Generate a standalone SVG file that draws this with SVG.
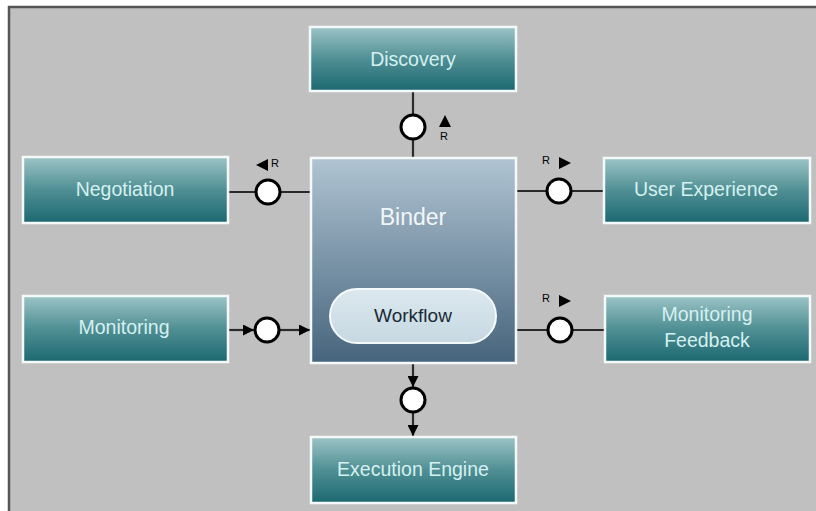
<svg xmlns="http://www.w3.org/2000/svg" width="816" height="511" viewBox="0 0 816 511">
  <defs>
    <linearGradient id="tealGrad" x1="0" y1="0" x2="0" y2="1">
      <stop offset="0" stop-color="#9cc4c6"/>
      <stop offset="0.5" stop-color="#4f8f94"/>
      <stop offset="1" stop-color="#1c6870"/>
    </linearGradient>
    <linearGradient id="binderGrad" x1="0" y1="0" x2="0" y2="1">
      <stop offset="0" stop-color="#b0c4d2"/>
      <stop offset="0.5" stop-color="#7b94a8"/>
      <stop offset="1" stop-color="#46647c"/>
    </linearGradient>
    <linearGradient id="pillGrad" x1="0" y1="0" x2="0" y2="1">
      <stop offset="0" stop-color="#dce8ee"/>
      <stop offset="1" stop-color="#c6d8e2"/>
    </linearGradient>
    <marker id="arrowBig" viewBox="0 0 10 10" refX="10" refY="5" markerWidth="12" markerHeight="11" markerUnits="userSpaceOnUse" orient="auto">
      <path d="M0,0 L10,5 L0,10 z" fill="#000"/>
    </marker>
  </defs>
  <style>
    .box { fill: url(#tealGrad); stroke: #f4fafa; stroke-width: 2.5; }
    .binder { fill: url(#binderGrad); stroke: #f4fafa; stroke-width: 2.5; }
    .label { font-family: "Liberation Sans", Arial, sans-serif; font-size: 19.5px; fill: #d6f0f0; text-anchor: middle; }
    .wire { stroke: #2a2a2a; stroke-width: 2.2; fill: none; }
    .port { fill: #ffffff; stroke: #000; stroke-width: 3; }
    .tri { fill: #000; }
    .r { font-family: "Liberation Sans", Arial, sans-serif; font-size: 11px; fill: #000; }
  </style>

  <!-- canvas -->
  <rect x="0" y="0" width="816" height="511" fill="#ffffff"/>
  <rect x="8" y="6" width="808" height="505" fill="#c0c0c0"/>
  <path d="M9,511 V7 H816" fill="none" stroke="#555" stroke-width="2.5"/>

  <!-- connectors -->
  <g id="connectors">
    <line class="wire" x1="413" y1="92" x2="413" y2="157"/>
    <line class="wire" x1="228" y1="192" x2="311" y2="192"/>
    <line class="wire" x1="517" y1="191" x2="603" y2="191"/>
    <line class="wire" x1="517" y1="330" x2="604" y2="330"/>
    <line class="wire" x1="228" y1="330" x2="254" y2="330" marker-end="url(#arrowBig)"/>
    <line class="wire" x1="280" y1="330" x2="310" y2="330" marker-end="url(#arrowBig)"/>
    <line class="wire" x1="413" y1="364" x2="413" y2="387" marker-end="url(#arrowBig)"/>
    <line class="wire" x1="413" y1="413" x2="413" y2="436" marker-end="url(#arrowBig)"/>

    <circle class="port" cx="413" cy="127" r="12"/>
    <circle class="port" cx="268" cy="192" r="12"/>
    <circle class="port" cx="559" cy="191" r="12"/>
    <circle class="port" cx="267" cy="330" r="12"/>
    <circle class="port" cx="560" cy="330" r="12"/>
    <circle class="port" cx="413" cy="400" r="12"/>

    <!-- R direction marks -->
    <path class="tri" d="M445,115 L451,127 L439,127 z"/>
    <text class="r" x="440" y="140">R</text>
    <path class="tri" d="M256,165 L268,159 L268,171 z"/>
    <text class="r" x="271" y="167">R</text>
    <path class="tri" d="M571,163 L559,157 L559,169 z"/>
    <text class="r" x="542" y="164">R</text>
    <path class="tri" d="M571,301 L559,295 L559,307 z"/>
    <text class="r" x="542" y="302">R</text>
  </g>

  <g id="discovery">
    <rect class="box" x="310" y="27" width="206" height="64"/>
    <text class="label" x="413" y="66">Discovery</text>
  </g>

  <g id="negotiation">
    <rect class="box" x="23" y="157" width="205" height="66"/>
    <text class="label" x="125" y="196">Negotiation</text>
  </g>

  <g id="user-experience">
    <rect class="box" x="604" y="158" width="206" height="65"/>
    <text class="label" x="706" y="196">User Experience</text>
  </g>

  <g id="monitoring">
    <rect class="box" x="23" y="296" width="205" height="66"/>
    <text class="label" x="124" y="334">Monitoring</text>
  </g>

  <g id="monitoring-feedback">
    <rect class="box" x="605" y="296" width="205" height="66"/>
    <text class="label" x="707" y="321">Monitoring</text>
    <text class="label" x="707" y="347">Feedback</text>
  </g>

  <g id="binder">
    <rect class="binder" x="311" y="158" width="205" height="205"/>
    <text x="413" y="225" font-family="'Liberation Sans', Arial, sans-serif" font-size="23" fill="#f2f6f8" text-anchor="middle">Binder</text>
    <g id="workflow">
      <rect x="330" y="289" width="166" height="54" rx="27" fill="url(#pillGrad)" stroke="#f4fafa" stroke-width="2"/>
      <text x="413" y="322" font-family="'Liberation Sans', Arial, sans-serif" font-size="19" fill="#1a2a36" text-anchor="middle">Workflow</text>
    </g>
  </g>

  <g id="execution-engine">
    <rect class="box" x="311" y="437" width="205" height="66"/>
    <text class="label" x="413" y="476">Execution Engine</text>
  </g>
</svg>
